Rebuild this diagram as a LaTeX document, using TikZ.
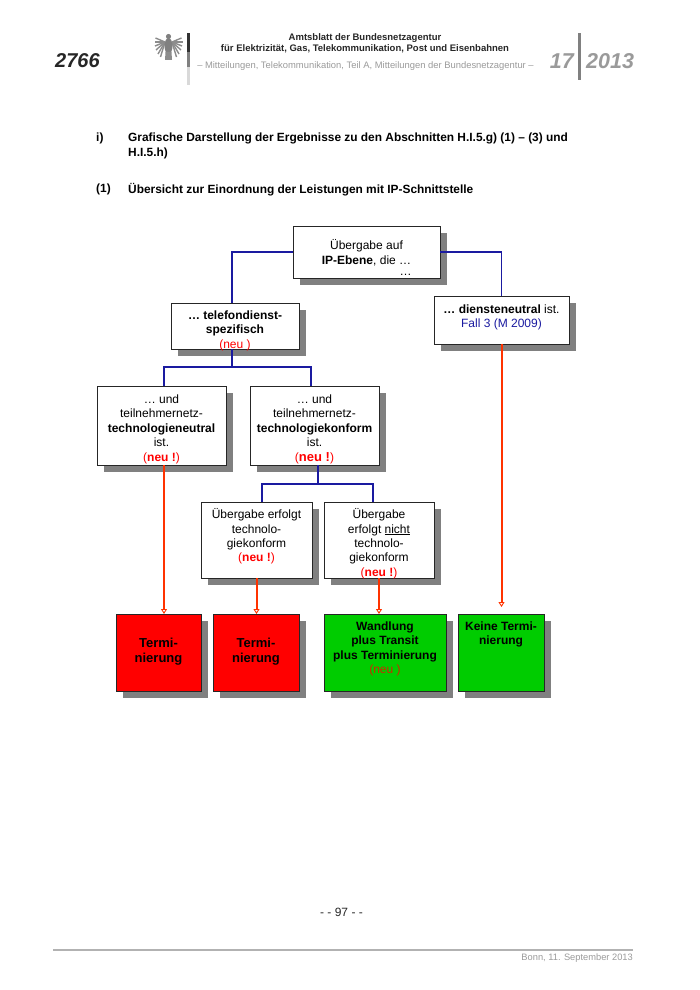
\documentclass[tikz,border=0pt]{standalone}
\usepackage{fontspec}
\setmainfont{Liberation Sans}
\usetikzlibrary{positioning}
\usetikzlibrary{arrows.meta}
\usetikzlibrary{shadows}
\definecolor{linkblue}{HTML}{1A1AA0}
\definecolor{linkred}{HTML}{FF3300}
\definecolor{termred}{HTML}{FF0000}
\definecolor{termgreen}{HTML}{00CC00}
\definecolor{headgray}{HTML}{9A9A9A}
\tikzstyle{box}=[draw=black!85, rectangle, fill=white, inner sep=0pt, outer sep=0pt, line width=1pt, drop shadow={shadow xshift=6.5pt, shadow yshift=-6.5pt, fill=black!50, opacity=1}]
\tikzstyle{boxtext}=[inner sep=0pt, align=center, font=\fontsize{12}{14.4}\selectfont, text depth=0ex]
\tikzstyle{bluelink}=[draw=linkblue, line width=1.4pt]
\tikzstyle{redlink}=[draw=linkred, line width=2pt, -{Triangle[open, length=5pt, width=6pt, line width=0.9pt]}]
\tikzstyle{plain}=[inner sep=0pt, anchor=west, text depth=0ex]
\newcommand{\neu}[1]{\textcolor{red}{#1}}
\begin{document}
\begin{tikzpicture}[x=1pt, y=-1pt]
\useasboundingbox (0,0) rectangle (700,990);
% page head
\node (pagenr) [plain, font=\fontsize{20}{24}\selectfont\bfseries\itshape, text=black!85] at (55,61) {2766};
\foreach \x/\y in {155.5/38, 154.5/42, 155/46, 156/50, 158/54, 160.5/57}
	\draw [black!45, line width=1.4pt] (165,42) -- (\x,\y);
\foreach \x/\y in {181.5/38, 182.5/42, 182/46, 181/50, 179/54, 176.5/57}
	\draw [black!45, line width=1.4pt] (172,42) -- (\x,\y);
\fill [black!50] (168.5,36.5) circle (2.6pt);
\fill [black!50] (168.5,46) ellipse (4pt and 8pt);
\fill [black!45] (165.5,52) -- (171.5,52) -- (172,60) -- (165,60) -- cycle;
\fill [black!80] (187,33) rectangle (190,52);
\fill [black!50] (187,52) rectangle (190,67);
\fill [black!15] (187,67) rectangle (190,85);
\node (title) [boxtext, font=\fontsize{9.5}{10.5}\selectfont\bfseries, text=black!85] at (365,42.5) {Amtsblatt der Bundesnetzagentur\\für Elektrizität, Gas, Telekommunikation, Post und Eisenbahnen};
\node (subtitle) [boxtext, font=\fontsize{9.4}{11}\selectfont, text=headgray] at (365.5,65) {– Mitteilungen, Telekommunikation, Teil A, Mitteilungen der Bundesnetzagentur –};
\node (issue) [plain, anchor=east, font=\fontsize{21.5}{26}\selectfont\bfseries\itshape, text=headgray] at (574,61) {17};
\fill [black!50] (578,33) rectangle (581,80);
\node (year) [plain, font=\fontsize{21.5}{26}\selectfont\bfseries\itshape, text=headgray] at (586,61) {2013};
% headings
\node (iitem) [plain, font=\fontsize{11.9}{13}\selectfont\bfseries] at (96,137) {i)};
\node (ihead) [plain, font=\fontsize{11.9}{15}\selectfont\bfseries, align=left] at (128,144.5) {Grafische Darstellung der Ergebnisse zu den Abschnitten H.I.5.g) (1) – (3) und\\H.I.5.h)};
\node (oneitem) [plain, font=\fontsize{11.9}{13}\selectfont\bfseries] at (96,188) {(1)};
\node (onehead) [plain, font=\fontsize{11.9}{13}\selectfont\bfseries] at (128,188) {Übersicht zur Einordnung der Leistungen mit IP-Schnittstelle};
% boxes
\node (top) [box, minimum width=147pt, minimum height=52pt] at (366.5,252) {};
\node (telefon) [box, minimum width=128pt, minimum height=46pt, below left=25pt and -6pt of top.south west] {};
\node (dienst) [box, minimum width=135pt, minimum height=48pt, below right=18pt and -6pt of top.south east] {};
\node (neutral) [box, minimum width=129pt, minimum height=79pt, below left=37pt and -55pt of telefon.south west] {};
\node (konform) [box, minimum width=129pt, minimum height=79pt, right=24pt of neutral] {};
\node (ueja) [box, minimum width=111pt, minimum height=76pt, below right=37pt and -49pt of konform.south west] {};
\node (uenein) [box, minimum width=110pt, minimum height=76pt, right=12pt of ueja] {};
\node (termone) [box, fill=termred, minimum width=85pt, minimum height=77pt, below right=149pt and 19pt of neutral.south west] {};
\node (termtwo) [box, fill=termred, minimum width=86pt, minimum height=77pt, right=12pt of termone] {};
\node (wandlung) [box, fill=termgreen, minimum width=122pt, minimum height=77pt, below right=36pt and 0pt of uenein.south west] {};
\node (keine) [box, fill=termgreen, minimum width=86pt, minimum height=77pt, right=12pt of wandlung] {};
% box texts
\node (toptext) [boxtext, below=13.5pt of top.north] {Übergabe auf\\\textbf{IP-Ebene}, die …\\[-3pt]\hspace*{78pt}…};
\node (telefontext) [boxtext, below=7.5pt of telefon.north] {\textbf{… telefondienst-}\\\textbf{spezifisch}\\\neu{(neu )}};
\node (diensttext) [boxtext, below=8.5pt of dienst.north] {\textbf{… diensteneutral} ist.\\\textcolor{linkblue}{Fall 3 (M 2009)}};
\node (neutraltext) [boxtext, below=8.5pt of neutral.north] {… und\\teilnehmernetz-\\\textbf{technologieneutral}\\ist.\\\neu{(\textbf{neu !})}};
\node (konformtext) [boxtext, below=8.5pt of konform.north] {… und\\teilnehmernetz-\\\textbf{technologiekonform}\\ist.\\\neu{(\textbf{\fontsize{13}{14.4}\selectfont neu !})}};
\node (uejatext) [boxtext, below=6.5pt of ueja.north] {Übergabe erfolgt\\technolo-\\giekonform\\\neu{(\textbf{neu !})}};
\node (ueneintext) [boxtext, below=6.5pt of uenein.north] {Übergabe\\erfolgt \underline{nicht}\\technolo-\\giekonform\\\neu{(\textbf{neu !})}};
\node (termonetext) [boxtext, below=23.5pt of termone.north, font=\fontsize{13}{15.5}\selectfont\bfseries] {Termi-\\nierung};
\node (termtwotext) [boxtext, below=23.5pt of termtwo.north, font=\fontsize{13}{15.5}\selectfont\bfseries] {Termi-\\nierung};
\node (wandlungtext) [boxtext, below=7.5pt of wandlung.north] {\textbf{Wandlung}\\\textbf{plus Transit}\\\textbf{plus Terminierung}\\\textcolor{linkred!80!black}{(neu )}};
\node (keinetext) [boxtext, below=7.5pt of keine.north] {\textbf{Keine Termi-}\\\textbf{nierung}};
% connectors
\draw [bluelink] (top.west) -| ([xshift=-3pt]telefon.north);
\draw [bluelink] (top.east) -| (dienst.north);
\coordinate [below=18pt of telefon.south, xshift=-3pt] (telefonfork);
\draw [bluelink] ([xshift=-3pt]telefon.south) -- (telefonfork);
\draw [bluelink] (telefonfork) -| ([xshift=2.5pt]neutral.north);
\draw [bluelink] (telefonfork) -| ([xshift=-3.5pt]konform.north);
\coordinate [below=19pt of konform.south, xshift=3.5pt] (konformfork);
\draw [bluelink] ([xshift=3.5pt]konform.south) -- (konformfork);
\draw [bluelink] (konformfork) -| ([xshift=5.5pt]ueja.north);
\draw [bluelink] (konformfork) -| ([xshift=-6pt]uenein.north);
\draw [redlink] ([xshift=2.5pt]neutral.south) -- ([xshift=2.5pt]neutral.south |- termone.north);
\draw [redlink] (ueja.south) -- (ueja.south |- termtwo.north);
\draw [redlink] (uenein.south) -- (uenein.south |- wandlung.north);
\draw [redlink] (dienst.south) -- ([yshift=7pt]dienst.south |- keine.north);
% page foot
\node (pagefoot) [boxtext, font=\fontsize{12}{14}\selectfont, text=black!85] at (341.5,912) {- - 97 - -};
\draw [draw=black!30, line width=1.2pt] (53,950) -- (633,950);
\node (footdate) [plain, anchor=east, font=\fontsize{9.3}{11}\selectfont, text=headgray] at (633,957) {Bonn, 11. September 2013};
\end{tikzpicture}
\end{document}
